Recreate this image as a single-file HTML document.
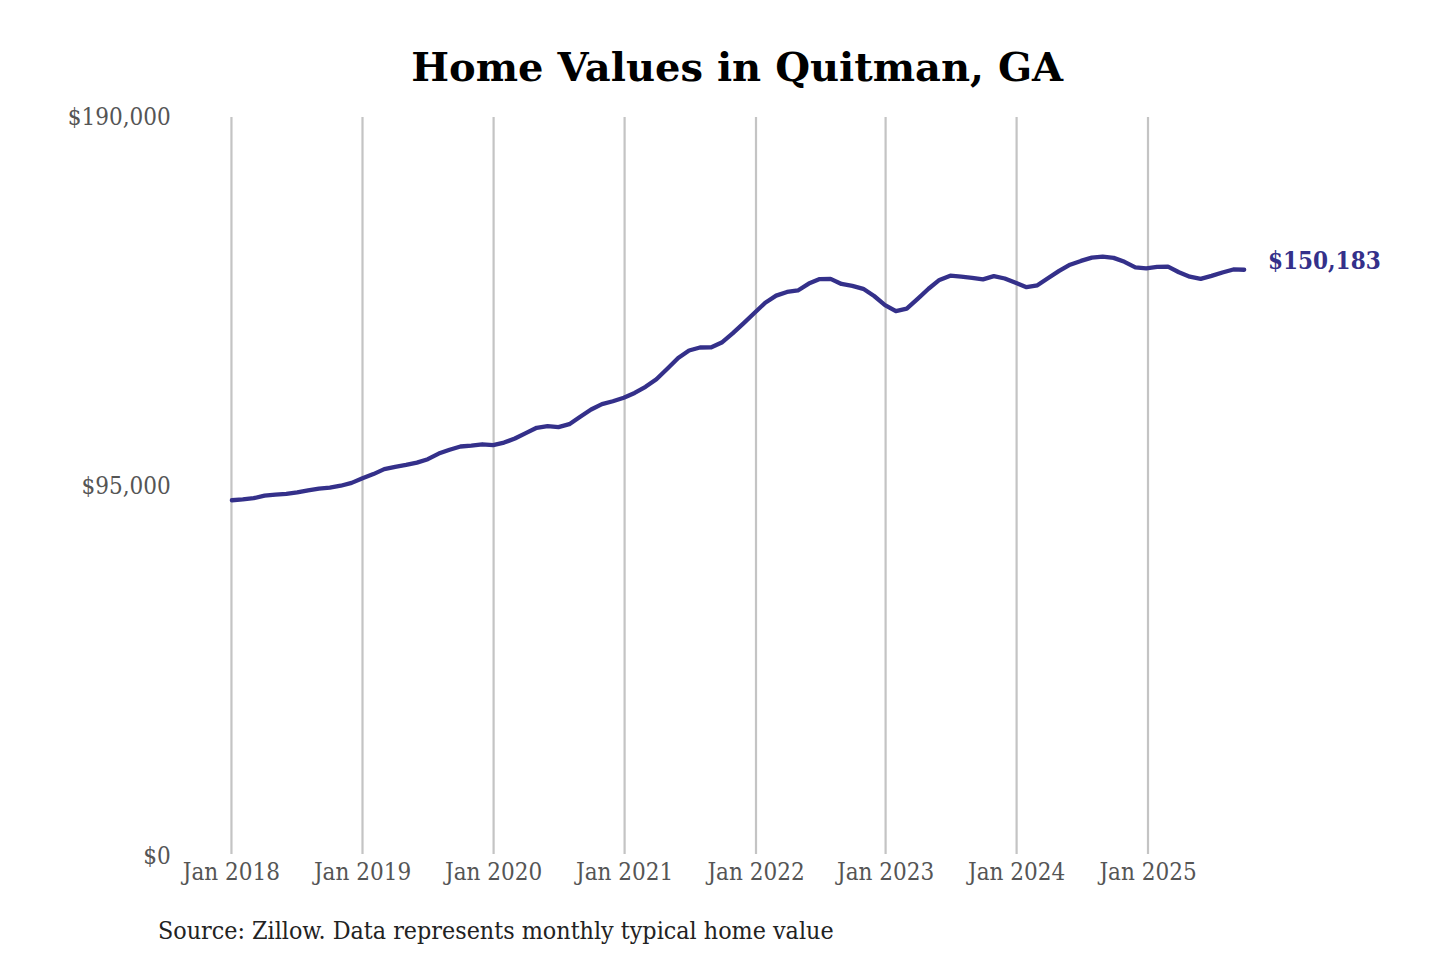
<!DOCTYPE html>
<html><head><meta charset="utf-8"><title>Home Values in Quitman, GA</title>
<style>
html,body{margin:0;padding:0;background:#fff;width:1440px;height:960px;overflow:hidden}
svg{display:block}
.ax{font-family:"DejaVu Serif Condensed","DejaVu Serif",serif;font-stretch:condensed;font-size:24px;fill:#555}
.ti{font-family:"DejaVu Serif",serif;font-weight:bold;font-size:40px;fill:#000}
.src{font-family:"DejaVu Serif Condensed","DejaVu Serif",serif;font-stretch:condensed;font-size:24.8px;fill:#222}
.end{font-family:"DejaVu Serif Condensed","DejaVu Serif",serif;font-stretch:condensed;font-weight:bold;font-size:24px;fill:#34308a}
</style></head>
<body>
<svg width="1440" height="960" viewBox="0 0 1440 960">
<rect width="1440" height="960" fill="#fff"/>
<text class="ti" x="737.2" y="81.4" text-anchor="middle">Home Values in Quitman, GA</text>
<g>
<rect x="230.35" y="117" width="2.2" height="737" fill="#c4c4c4"/>
<rect x="361.40" y="117" width="2.2" height="737" fill="#c4c4c4"/>
<rect x="492.50" y="117" width="2.2" height="737" fill="#c4c4c4"/>
<rect x="623.50" y="117" width="2.2" height="737" fill="#c4c4c4"/>
<rect x="754.90" y="117" width="2.2" height="737" fill="#c4c4c4"/>
<rect x="884.50" y="117" width="2.2" height="737" fill="#c4c4c4"/>
<rect x="1015.50" y="117" width="2.2" height="737" fill="#c4c4c4"/>
<rect x="1146.90" y="117" width="2.2" height="737" fill="#c4c4c4"/>
</g>
<g class="ax">
<text x="170.7" y="124.6" text-anchor="end">$190,000</text>
<text x="170.7" y="493.7" text-anchor="end">$95,000</text>
<text x="170.7" y="864" text-anchor="end">$0</text>
<text x="231.45" y="880" text-anchor="middle">Jan 2018</text>
<text x="362.50" y="880" text-anchor="middle">Jan 2019</text>
<text x="493.60" y="880" text-anchor="middle">Jan 2020</text>
<text x="624.60" y="880" text-anchor="middle">Jan 2021</text>
<text x="756.00" y="880" text-anchor="middle">Jan 2022</text>
<text x="885.60" y="880" text-anchor="middle">Jan 2023</text>
<text x="1016.60" y="880" text-anchor="middle">Jan 2024</text>
<text x="1148.00" y="880" text-anchor="middle">Jan 2025</text>
</g>
<path d="M231.90,500.26 L242.78,499.38 L253.67,498.18 L264.56,495.61 L275.44,494.60 L286.32,493.85 L297.21,492.39 L308.10,490.28 L318.98,488.53 L329.87,487.65 L340.75,485.74 L351.63,482.88 L362.52,478.20 L373.40,474.10 L384.29,469.16 L395.18,466.85 L406.06,464.97 L416.94,462.58 L427.83,459.19 L438.72,453.58 L449.60,449.72 L460.49,446.50 L471.37,445.59 L482.25,444.27 L493.14,445.10 L504.02,442.58 L514.91,438.49 L525.79,433.07 L536.68,427.81 L547.57,426.20 L558.45,427.11 L569.34,424.20 L580.22,416.80 L591.11,409.50 L601.99,404.12 L612.88,401.26 L623.76,397.75 L634.64,392.93 L645.53,386.86 L656.41,379.25 L667.30,368.77 L678.18,357.97 L689.07,350.48 L699.96,347.51 L710.84,347.47 L721.73,342.57 L732.61,333.34 L743.50,323.30 L754.38,313.00 L765.26,302.70 L776.15,295.65 L787.03,291.95 L797.92,290.45 L808.80,283.59 L819.69,279.10 L830.57,278.85 L841.46,283.96 L852.34,285.91 L863.23,288.81 L874.12,296.00 L885.00,305.03 L895.88,311.20 L906.77,308.71 L917.65,298.94 L928.54,288.75 L939.42,279.89 L950.31,275.70 L961.19,276.62 L972.08,277.78 L982.96,279.42 L993.85,276.15 L1004.74,278.52 L1015.62,282.86 L1026.51,287.20 L1037.39,285.33 L1048.28,277.94 L1059.16,270.86 L1070.05,264.67 L1080.93,260.91 L1091.82,257.57 L1102.70,256.68 L1113.59,257.86 L1124.47,261.84 L1135.36,267.42 L1146.24,268.29 L1157.12,266.84 L1168.01,266.63 L1178.89,272.28 L1189.78,276.72 L1200.66,278.91 L1211.55,275.91 L1222.43,272.46 L1233.32,269.45 L1244.20,269.75" fill="none" stroke="#34308a" stroke-width="4.3" stroke-linecap="round" stroke-linejoin="round"/>
<text class="end" x="1268" y="268.6">$150,183</text>
<text class="src" x="158" y="938.8">Source: Zillow. Data represents monthly typical home value</text>
</svg>
</body></html>
